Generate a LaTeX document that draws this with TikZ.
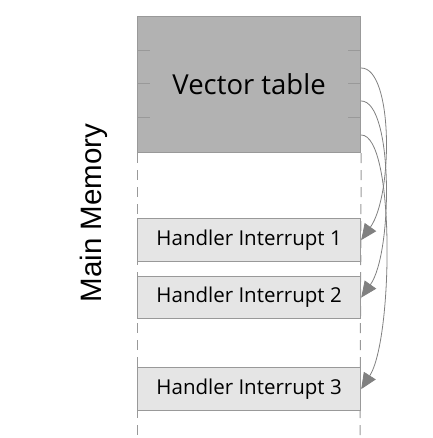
\documentclass[tikz,border=0pt]{standalone}
\usepackage{fontspec}
\setmainfont{Open Sans}
\newfontfamily\sidefont{Liberation Sans}
\usetikzlibrary{arrows.meta}

\begin{document}
\begin{tikzpicture}[x=1pt,y=1pt,
  memblock/.style={draw=black!40, line width=1.2pt, minimum width=223pt, inner sep=0pt, anchor=north west},
  tick/.style={draw=black!40, line width=0.8pt},
  memedge/.style={draw=black!40, line width=1pt, dash pattern=on 10pt off 7pt},
  jump/.style={draw=black!50, line width=0.8pt, -{Triangle[length=16pt,width=14pt,fill=black!50]}}]
\useasboundingbox (0,0) rectangle (432,-438);
\pgfmathsetmacro\pad{13};
% free ends of the memory column
\coordinate (bl) at (137,-438);
\coordinate (br) at (360,-438);
\node[memblock, fill=black!30, minimum height=136pt, font=\fontsize{27.5}{32}\selectfont] (vt) at (137,-16) {Vector table};
\draw[memedge] (vt.south west) -- (bl);
\draw[memedge] (vt.south east) -- (br);
\node[memblock, fill=black!10, minimum height=43pt, font=\fontsize{20.5}{24}\selectfont] (h1) at (137,-218) {Handler Interrupt 1};
\node[memblock, fill=black!10, minimum height=42pt, font=\fontsize{20.5}{24}\selectfont] (h2) at (137,-276) {Handler Interrupt 2};
\node[memblock, fill=black!10, minimum height=43pt, font=\fontsize{20.5}{24}\selectfont] (h3) at (137,-367) {Handler Interrupt 3};
\node[rotate=90, font=\sidefont\fontsize{29.5}{34}\selectfont] (mm) at (94,-213) {Main Memory};
% entries of the table
\foreach \d in {34,67,101} {
  \draw[tick] ([yshift=-\d pt]vt.north west) -- ++(\pad,0);
  \draw[tick] ([yshift=-\d pt]vt.north east) -- ++(-\pad,0);
}
\foreach \d/\n in {52/1,85/2,119/3} \coordinate (s\n) at ([yshift=-\d pt]vt.north east);
\draw[jump] (s1) .. controls +(32,0) and +(32,45) .. (h1.east);
\draw[jump] (s2) .. controls +(32,0) and +(32,45) .. (h2.east);
\draw[jump] (s3) .. controls +(34,0) and +(32,50) .. (h3.east);
\end{tikzpicture}
\end{document}
